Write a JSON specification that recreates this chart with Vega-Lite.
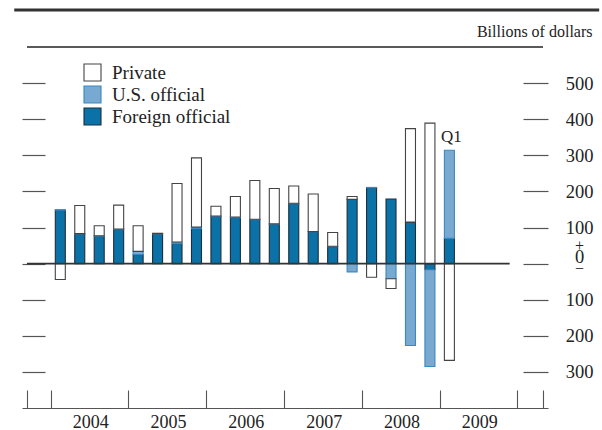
{
  "$schema": "https://vega.github.io/schema/vega-lite/v6.json",
  "width": 526,
  "height": 361,
  "autosize": "none",
  "padding": {"left": 22, "top": 47, "right": 54, "bottom": 22},
  "background": "white",
  "config": {"view": {"stroke": null}, "font": "Liberation Serif"},
  "datasets": {
    "flows": [
      {"period": "2004 Q1", "t": 2004.125, "series": "Foreign official", "ord": 1, "v": 148},
      {"period": "2004 Q1", "t": 2004.125, "series": "U.S. official", "ord": 2, "v": 1},
      {"period": "2004 Q1", "t": 2004.125, "series": "Private", "ord": 3, "v": -44},
      {"period": "2004 Q2", "t": 2004.375, "series": "Foreign official", "ord": 1, "v": 82},
      {"period": "2004 Q2", "t": 2004.375, "series": "U.S. official", "ord": 2, "v": 1},
      {"period": "2004 Q2", "t": 2004.375, "series": "Private", "ord": 3, "v": 78},
      {"period": "2004 Q3", "t": 2004.625, "series": "Foreign official", "ord": 1, "v": 76},
      {"period": "2004 Q3", "t": 2004.625, "series": "U.S. official", "ord": 2, "v": 1},
      {"period": "2004 Q3", "t": 2004.625, "series": "Private", "ord": 3, "v": 28},
      {"period": "2004 Q4", "t": 2004.875, "series": "Foreign official", "ord": 1, "v": 95},
      {"period": "2004 Q4", "t": 2004.875, "series": "U.S. official", "ord": 2, "v": 1},
      {"period": "2004 Q4", "t": 2004.875, "series": "Private", "ord": 3, "v": 66},
      {"period": "2005 Q1", "t": 2005.125, "series": "Foreign official", "ord": 1, "v": 25},
      {"period": "2005 Q1", "t": 2005.125, "series": "U.S. official", "ord": 2, "v": 9},
      {"period": "2005 Q1", "t": 2005.125, "series": "Private", "ord": 3, "v": 71},
      {"period": "2005 Q2", "t": 2005.375, "series": "Foreign official", "ord": 1, "v": 82},
      {"period": "2005 Q2", "t": 2005.375, "series": "U.S. official", "ord": 2, "v": 1},
      {"period": "2005 Q2", "t": 2005.375, "series": "Private", "ord": 3, "v": 1},
      {"period": "2005 Q3", "t": 2005.625, "series": "Foreign official", "ord": 1, "v": 55},
      {"period": "2005 Q3", "t": 2005.625, "series": "U.S. official", "ord": 2, "v": 5},
      {"period": "2005 Q3", "t": 2005.625, "series": "Private", "ord": 3, "v": 162},
      {"period": "2005 Q4", "t": 2005.875, "series": "Foreign official", "ord": 1, "v": 97},
      {"period": "2005 Q4", "t": 2005.875, "series": "U.S. official", "ord": 2, "v": 4},
      {"period": "2005 Q4", "t": 2005.875, "series": "Private", "ord": 3, "v": 192},
      {"period": "2006 Q1", "t": 2006.125, "series": "Foreign official", "ord": 1, "v": 131},
      {"period": "2006 Q1", "t": 2006.125, "series": "U.S. official", "ord": 2, "v": 1},
      {"period": "2006 Q1", "t": 2006.125, "series": "Private", "ord": 3, "v": 27},
      {"period": "2006 Q2", "t": 2006.375, "series": "Foreign official", "ord": 1, "v": 127},
      {"period": "2006 Q2", "t": 2006.375, "series": "U.S. official", "ord": 2, "v": 2},
      {"period": "2006 Q2", "t": 2006.375, "series": "Private", "ord": 3, "v": 57},
      {"period": "2006 Q3", "t": 2006.625, "series": "Foreign official", "ord": 1, "v": 122},
      {"period": "2006 Q3", "t": 2006.625, "series": "U.S. official", "ord": 2, "v": 1},
      {"period": "2006 Q3", "t": 2006.625, "series": "Private", "ord": 3, "v": 107},
      {"period": "2006 Q4", "t": 2006.875, "series": "Foreign official", "ord": 1, "v": 109},
      {"period": "2006 Q4", "t": 2006.875, "series": "U.S. official", "ord": 2, "v": 1},
      {"period": "2006 Q4", "t": 2006.875, "series": "Private", "ord": 3, "v": 98},
      {"period": "2007 Q1", "t": 2007.125, "series": "Foreign official", "ord": 1, "v": 166},
      {"period": "2007 Q1", "t": 2007.125, "series": "U.S. official", "ord": 2, "v": 1},
      {"period": "2007 Q1", "t": 2007.125, "series": "Private", "ord": 3, "v": 48},
      {"period": "2007 Q2", "t": 2007.375, "series": "Foreign official", "ord": 1, "v": 88},
      {"period": "2007 Q2", "t": 2007.375, "series": "U.S. official", "ord": 2, "v": 1},
      {"period": "2007 Q2", "t": 2007.375, "series": "Private", "ord": 3, "v": 104},
      {"period": "2007 Q3", "t": 2007.625, "series": "Foreign official", "ord": 1, "v": 47},
      {"period": "2007 Q3", "t": 2007.625, "series": "U.S. official", "ord": 2, "v": 1},
      {"period": "2007 Q3", "t": 2007.625, "series": "Private", "ord": 3, "v": 38},
      {"period": "2007 Q4", "t": 2007.875, "series": "Foreign official", "ord": 1, "v": 178},
      {"period": "2007 Q4", "t": 2007.875, "series": "U.S. official", "ord": 2, "v": -23},
      {"period": "2007 Q4", "t": 2007.875, "series": "Private", "ord": 3, "v": 8},
      {"period": "2008 Q1", "t": 2008.125, "series": "Foreign official", "ord": 1, "v": 210},
      {"period": "2008 Q1", "t": 2008.125, "series": "U.S. official", "ord": 2, "v": 1},
      {"period": "2008 Q1", "t": 2008.125, "series": "Private", "ord": 3, "v": -38},
      {"period": "2008 Q2", "t": 2008.375, "series": "Foreign official", "ord": 1, "v": 179},
      {"period": "2008 Q2", "t": 2008.375, "series": "U.S. official", "ord": 2, "v": -42},
      {"period": "2008 Q2", "t": 2008.375, "series": "Private", "ord": 3, "v": -27},
      {"period": "2008 Q3", "t": 2008.625, "series": "Foreign official", "ord": 1, "v": 115},
      {"period": "2008 Q3", "t": 2008.625, "series": "U.S. official", "ord": 2, "v": -227},
      {"period": "2008 Q3", "t": 2008.625, "series": "Private", "ord": 3, "v": 259},
      {"period": "2008 Q4", "t": 2008.875, "series": "Foreign official", "ord": 1, "v": -17},
      {"period": "2008 Q4", "t": 2008.875, "series": "U.S. official", "ord": 2, "v": -268},
      {"period": "2008 Q4", "t": 2008.875, "series": "Private", "ord": 3, "v": 389},
      {"period": "2009 Q1", "t": 2009.125, "series": "Foreign official", "ord": 1, "v": 70},
      {"period": "2009 Q1", "t": 2009.125, "series": "U.S. official", "ord": 2, "v": 244},
      {"period": "2009 Q1", "t": 2009.125, "series": "Private", "ord": 3, "v": -268}
    ],
    "notes": [
      {"t": 2009.125, "v": 314, "label": "Q1"}
    ],
    "frame": [
      {"part": "frame"}
    ]
  },
  "layer": [
    {
      "data": {"name": "flows"},
      "mark": {"type": "bar", "width": 10, "strokeWidth": 1.1},
      "encoding": {
        "x": {
          "field": "t", "type": "quantitative",
          "scale": {"domain": [2003.697, 2010.328], "nice": false, "zero": false},
          "axis": {
            "orient": "bottom", "title": null, "grid": false,
            "values": [2003.697, 2004, 2005, 2006, 2007, 2008, 2009, 2010, 2010.328],
            "tickCount": 40, "tickMinStep": 0.01,
            "tickSize": -18, "tickColor": "#555", "tickWidth": 1.1,
            "domainColor": "#555", "domainWidth": 1.2,
            "labelExpr": "(datum.value >= 2004 && datum.value <= 2009 && datum.value == floor(datum.value)) ? toString(datum.value) : ''",
            "labelOffset": 39.66, "labelPadding": 23, "labelBaseline": "top",
            "labelFontSize": 18, "labelFont": "Liberation Serif", "labelColor": "#222",
            "labelOverlap": false, "labelFlush": false, "labelBound": false
          }
        },
        "y": {
          "field": "v", "type": "quantitative", "stack": "zero",
          "scale": {"domain": [-400, 600], "nice": false},
          "axis": {
            "orient": "right", "grid": false, "domain": false,
            "values": [-300, -200, -100, -14, 0, 19, 50, 100, 200, 300, 400, 500],
            "tickCount": 40,
            "tickSize": -25, "tickColor": "#555", "tickWidth": 1.2,
            "tickOpacity": {"condition": {"test": "datum.value == -14 || datum.value == 19 || datum.value == 50", "value": 0}, "value": 1},
            "labelExpr": "datum.value == 0 ? '' : datum.value == 19 ? '0' : datum.value == 50 ? '+' : datum.value == -14 ? '\u2212' : toString(abs(datum.value))",
            "labelAlign": "center", "labelPadding": 56, "labelBaseline": "middle",
            "labelFontSize": {"condition": {"test": "datum.value == -14 || datum.value == 50", "value": 16}, "value": 18.5},
            "labelFont": "Liberation Serif", "labelColor": "#222",
            "labelOverlap": false, "labelFlush": false, "labelBound": false,
            "title": "Billions of dollars", "titleAngle": 0, "titleAlign": "right",
            "titleBaseline": "alphabetic", "titleX": 44, "titleY": -11,
            "titleFontSize": 16, "titleFontWeight": "normal", "titleFont": "Liberation Serif", "titleColor": "#222"
          }
        },
        "fill": {
          "field": "series", "type": "nominal",
          "scale": {"domain": ["Private", "U.S. official", "Foreign official"], "range": ["#ffffff", "#78a9d0", "#0b72a8"]},
          "legend": {
            "orient": "none", "legendX": 61, "legendY": 16, "title": null, "padding": 0,
            "symbolType": "square", "symbolSize": 289, "symbolStrokeWidth": 1.1,
            "labelFontSize": 19, "labelFont": "Liberation Serif", "labelColor": "#222",
            "rowPadding": -1, "labelOffset": 10
          }
        },
        "stroke": {
          "field": "series", "type": "nominal",
          "scale": {"domain": ["Private", "U.S. official", "Foreign official"], "range": ["#444444", "#3a87c2", "#1c2e3c"]},
          "legend": {
            "orient": "none", "legendX": 61, "legendY": 16, "title": null, "padding": 0,
            "symbolType": "square", "symbolSize": 289, "symbolStrokeWidth": 1.1,
            "labelFontSize": 19, "labelFont": "Liberation Serif", "labelColor": "#222",
            "rowPadding": -1, "labelOffset": 10
          }
        },
        "order": {"field": "ord", "type": "quantitative"}
      }
    },
    {
      "data": {"name": "frame"},
      "mark": {"type": "rule", "color": "#333", "strokeWidth": 1.6},
      "encoding": {
        "x": {"datum": 2003.697, "type": "quantitative"},
        "x2": {"datum": 2009.9},
        "y": {
          "datum": 0, "type": "quantitative",
          "scale": {"domain": [-400, 600], "nice": false},
          "axis": {
            "orient": "left", "grid": false, "domain": false, "labels": false, "title": null,
            "values": [-300, -200, -100, 0, 100, 200, 300, 400, 500],
            "tickCount": 40,
            "tickSize": -23, "tickColor": "#555", "tickWidth": 1.2
          }
        }
      }
    },
    {
      "data": {"name": "frame"},
      "mark": {"type": "rule", "color": "#222", "strokeWidth": 1.3},
      "encoding": {
        "x": {"datum": 2003.697, "type": "quantitative"},
        "x2": {"datum": 2010.328},
        "y": {"datum": 600, "type": "quantitative", "axis": null}
      }
    },
    {
      "data": {"name": "frame"},
      "mark": {"type": "rule", "color": "#333", "strokeWidth": 3},
      "encoding": {
        "x": {"datum": 2003.533, "type": "quantitative"},
        "x2": {"datum": 2011.05},
        "y": {"datum": 702.5, "type": "quantitative", "axis": null}
      }
    },
    {
      "data": {"name": "notes"},
      "mark": {"type": "text", "fontSize": 17, "font": "Liberation Serif", "color": "#222", "baseline": "alphabetic", "align": "center", "dy": -8, "dx": 2},
      "encoding": {
        "x": {"field": "t", "type": "quantitative"},
        "y": {"field": "v", "type": "quantitative", "axis": null},
        "text": {"field": "label"}
      }
    }
  ],
  "resolve": {"axis": {"y": "independent"}}
}
